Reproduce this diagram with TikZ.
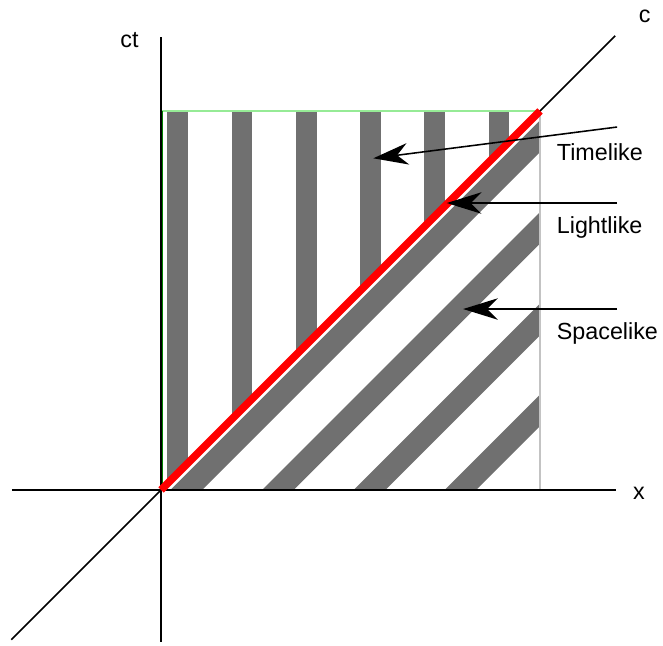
\documentclass[tikz,border=0pt]{standalone}
\usepackage{fontspec}
\setmainfont{Liberation Sans}
\usetikzlibrary{
  arrows.meta,  % Stealth 箭头
  calc          % 坐标计算
}
\definecolor{stripegray}{RGB}{112,112,112}
\definecolor{edgegreen}{RGB}{150,235,150}
\definecolor{edgegray}{RGB}{195,195,195}
\tikzset{
  axis line/.style={
    black,
    line width=0.75pt
  },
  stripe/.style={
    fill=stripegray,
    draw=none
  },
  light ray/.style={
    red,
    line width=3.4pt
  },
  pointer/.style={
    -{Stealth[length=0.55cm, width=0.34cm, inset=0.17cm]},
    line width=0.7pt,
    black
  },
  region label/.style={
    anchor=base west,
    inner sep=0pt,
    font=\fontsize{10.5}{12}\selectfont
  }
}

\begin{document}
\begin{tikzpicture}
  \useasboundingbox (-2.549,-2.454) rectangle (7.947,7.757);
  \def\L{6}

  % 1. 竖条纹 (类时区域)
  \begin{scope}
    \clip (0,0) -- (0,\L) -- (\L,\L) -- cycle;
    \foreach \i in {0,...,5}
      \fill[stripe] ({0.1+1.017*\i},0) rectangle ({0.43+1.017*\i},\L);
  \end{scope}

  % 2. 斜条纹 (类空区域)
  \begin{scope}
    \clip (0,0) -- (\L,0) -- (\L,\L) -- cycle;
    \foreach \a in {0.15,1.60,3.05,4.49}
      \fill[stripe] (\a,0) -- (\a+0.5,0) -- (\a+0.5+\L,\L) -- (\a+\L,\L) -- cycle;
  \end{scope}

  % 3. 方框边线
  \draw[edgegreen, line width=1.3pt] (0,\L) -- (\L,\L);
  \draw[edgegray, line width=0.9pt] (\L,0) -- (\L,\L);
  \draw[green!50!black, line width=0.5pt] (0.03,0) -- (0.03,\L);

  % 4. 坐标轴与光线
  \draw[axis line] (-2.36,0) -- (7.21,0);      % x 轴
  \draw[axis line] (0,-2.40) -- (0,7.17);      % ct 轴
  \draw[axis line] (-2.37,-2.37) -- (7.19,7.19); % c
  \draw[light ray] (0,0) -- (\L,\L);

  % 5. 文字标注
  \node[region label] (ct) at (-0.649,7.013) {ct};
  \node[region label] (c) at (7.556,7.40) {c};
  \node[region label] (x) at (7.467,-0.147) {x};
  \node[region label] (timelike) at (6.26,5.224) {Timelike};
  \node[region label] (lightlike) at (6.26,4.068) {Lightlike};
  \node[region label] (spacelike) at (6.26,2.39) {Spacelike};

  % 6. 指示箭头
  \coordinate (timelike tail) at (7.22,5.746);
  \coordinate (timelike tip) at (3.361,5.251);
  \coordinate (lightlike tail) at (7.22,4.543);
  \coordinate (lightlike tip) at (4.523,4.543);
  \coordinate (spacelike tail) at (7.22,2.865);
  \coordinate (spacelike tip) at (4.783,2.865);
  \draw[pointer] (timelike tail) -- (timelike tip);
  \draw[pointer] (lightlike tail) -- (lightlike tip);
  \draw[pointer] (spacelike tail) -- (spacelike tip);
\end{tikzpicture}
\end{document}
